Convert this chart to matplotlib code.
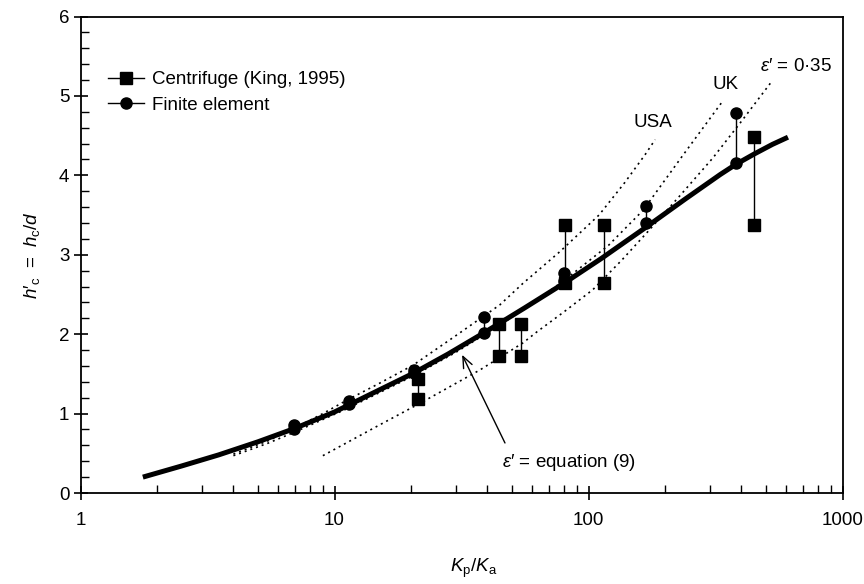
import matplotlib
matplotlib.use('Agg')
import matplotlib.pyplot as plt
from matplotlib.ticker import LogLocator, MultipleLocator, NullFormatter

plt.rcParams['font.family'] = ['Liberation Sans', 'DejaVu Sans']
plt.rcParams['mathtext.fontset'] = 'custom'
plt.rcParams['mathtext.rm'] = 'Liberation Sans'
plt.rcParams['mathtext.it'] = 'Liberation Sans:italic'
plt.rcParams['font.size'] = 13.5

# Centrifuge tests (King, 1995): upper and lower value at each Kp/Ka
cf_ratio = [21.4, 44.5, 54.4, 80.8, 115, 449]
cf_upper = [1.43, 2.13, 2.13, 3.38, 3.38, 4.48]
cf_lower = [1.18, 1.73, 1.73, 2.64, 2.64, 3.37]

# Finite element results
fe_ratio = [6.93, 11.4, 20.5, 38.9, 80, 169, 381]
fe_upper = [0.85, 1.16, 1.55, 2.21, 2.77, 3.62, 4.79]
fe_lower = [0.80, 1.12, 1.51, 2.02, 2.67, 3.40, 4.16]

# eps' from equation (9)
eq9_ratio = [1.76, 2.5, 3.5, 5, 6.93, 10, 14, 20.5, 28, 38.9, 56, 80, 112,
             169, 240, 330, 381, 450, 530, 610]
eq9_h = [0.20, 0.34, 0.48, 0.645, 0.81, 1.02, 1.25, 1.51, 1.75, 2.02, 2.33,
         2.64, 2.95, 3.35, 3.70, 4.01, 4.14, 4.27, 4.39, 4.48]

# code curves
usa_ratio = [4.0, 5.5, 7.0, 9, 11.2, 15, 20.4, 30, 44.8, 55.2, 77.2, 110,
             139, 167, 183]
usa_h = [0.49, 0.66, 0.82, 1.0, 1.17, 1.38, 1.61, 1.98, 2.37, 2.64, 3.04,
         3.5, 3.91, 4.26, 4.45]
uk_ratio = [4.0, 5.5, 7.0, 11, 20, 30, 44, 60, 85, 120, 164, 235, 335]
uk_h = [0.47, 0.63, 0.77, 1.05, 1.46, 1.77, 2.1, 2.38, 2.74, 3.12, 3.56,
        4.25, 4.92]

# constant eps' = 0.35
e35_ratio = [9.0, 15.1, 22.3, 37.4, 55.2, 62.7, 80, 104, 135, 170, 230, 309,
             400, 523]
e35_h = [0.47, 0.86, 1.15, 1.55, 1.89, 2.03, 2.28, 2.56, 2.93, 3.28, 3.75,
         4.22, 4.68, 5.17]

fig, ax = plt.subplots(figsize=(8.64, 5.84), dpi=100)
fig.subplots_adjust(left=80.5 / 864, right=842.5 / 864,
                    bottom=1 - 493 / 584, top=1 - 16.5 / 584)

dots = (0, (1.2, 2.4))
for xs, ys in [(usa_ratio, usa_h), (uk_ratio, uk_h), (e35_ratio, e35_h)]:
    ax.plot(xs, ys, color='k', lw=1.2, linestyle=dots, zorder=2)

ax.plot(eq9_ratio, eq9_h, color='k', lw=3.6, solid_capstyle='butt',
        solid_joinstyle='round', zorder=3)

for i, (x, lo, hi) in enumerate(zip(cf_ratio, cf_lower, cf_upper)):
    ax.plot([x, x], [lo, hi], '-s', color='k', lw=1.0, ms=8,
            label='Centrifuge (King, 1995)' if i == 0 else None, zorder=4)
for i, (x, lo, hi) in enumerate(zip(fe_ratio, fe_lower, fe_upper)):
    ax.plot([x, x], [lo, hi], '-o', color='k', lw=1.0, ms=8,
            label='Finite element' if i == 0 else None, zorder=4)

ax.set_xscale('log')
ax.set_xlim(1, 1000)
ax.set_ylim(0, 6)
ax.set_xticks([1, 10, 100, 1000])
ax.set_xticklabels(['1', '10', '100', '1000'])
ax.xaxis.set_minor_locator(LogLocator(base=10, subs=range(2, 10), numticks=12))
ax.xaxis.set_minor_formatter(NullFormatter())
ax.yaxis.set_major_locator(MultipleLocator(1))
ax.yaxis.set_minor_locator(MultipleLocator(0.2))
ax.tick_params(which='major', direction='inout', length=10, width=1.2)
ax.tick_params(which='minor', direction='in', length=6, width=1.0)
ax.tick_params(axis='x', which='major', pad=9)
ax.tick_params(axis='y', which='major', pad=3)
for sp in ax.spines.values():
    sp.set_linewidth(1.3)

ax.set_xlabel(r'$K_{\mathrm{p}}/K_{\mathrm{a}}$', labelpad=20)
ax.xaxis.label.set_x(0.516)
ax.set_ylabel(r"$h$′$_{\mathrm{c}}\;\,=\;\,h_{\mathrm{c}}/d$", labelpad=12)

ax.text(150, 4.67, 'USA', ha='left', va='center')
ax.text(309, 5.14, 'UK', ha='left', va='center')
ax.text(473, 5.37, r"$\varepsilon$′ = 0·35", ha='left', va='center')
ax.text(45.7, 0.38, r"$\varepsilon$′ = equation (9)", ha='left', va='center')
ax.annotate('', xy=(31.8, 1.74), xytext=(46.9, 0.63),
            arrowprops=dict(arrowstyle='->,head_length=0.6,head_width=0.25',
                            lw=1.0, color='k', shrinkA=0, shrinkB=0))

ax.legend(loc='upper left', bbox_to_anchor=(0.036, 0.885), frameon=False,
          borderpad=0, borderaxespad=0, handlelength=1.9, handletextpad=0.45,
          labelspacing=0.45, numpoints=1)

fig.savefig('out.png', dpi=100)
